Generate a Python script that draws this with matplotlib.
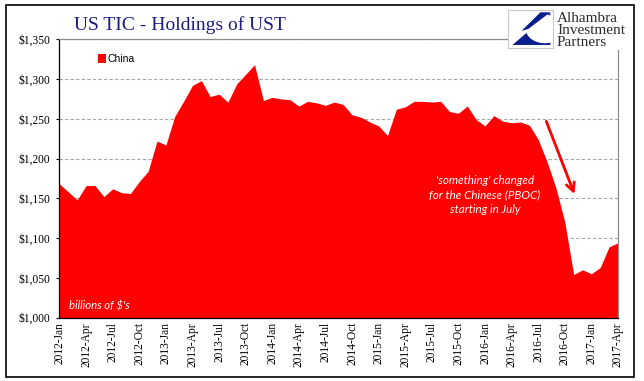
import matplotlib
matplotlib.use('Agg')
import matplotlib.pyplot as plt
from matplotlib.patches import Rectangle, Polygon, Ellipse
from matplotlib.ticker import FuncFormatter

# 中国持有美债 (十亿美元), 2012-Jan .. 2017-Apr, 月度
china = [1168, 1158, 1148, 1166, 1166, 1152, 1162, 1157, 1156, 1171,
         1184, 1222, 1217, 1253, 1272, 1292, 1298, 1278, 1281, 1271,
         1294, 1306, 1318, 1273, 1277, 1275, 1274, 1266, 1272, 1270,
         1267, 1271, 1268, 1255, 1252, 1246, 1241, 1229, 1262, 1265,
         1272, 1272, 1271, 1272, 1259, 1257, 1266, 1249, 1241, 1254,
         1247, 1245, 1246, 1242, 1224, 1196, 1163, 1120, 1054, 1060,
         1055, 1063, 1089, 1094]
months = list(range(len(china)))

tick_labels = ['2012-Jan', '2012-Apr', '2012-Jul', '2012-Oct',
               '2013-Jan', '2013-Apr', '2013-Jul', '2013-Oct',
               '2014-Jan', '2014-Apr', '2014-Jul', '2014-Oct',
               '2015-Jan', '2015-Apr', '2015-Jul', '2015-Oct',
               '2016-Jan', '2016-Apr', '2016-Jul', '2016-Oct',
               '2017-Jan', '2017-Apr']

serif = 'Liberation Serif'

fig = plt.figure(figsize=(6.44, 3.81), dpi=100)
ax = fig.add_axes([59.5 / 644, 1 - 317.5 / 381, 558.5 / 644, 278.2 / 381])

# 面积图
ax.fill_between(months, 1000, china, color='#ff0000', lw=0, label='China')
ax.set_xlim(0, len(china) - 1)
ax.set_ylim(1000, 1350)

# 坐标轴
ax.set_yticks(range(1000, 1351, 50))
ax.yaxis.set_major_formatter(FuncFormatter(lambda v, p: '${:,.0f}'.format(v)))
ax.set_xticks(range(0, len(china), 3))
ax.set_xticklabels(tick_labels, rotation=90, family=serif, fontsize=8.3)
ax.set_xticks(range(3, len(china), 6), minor=True)
ax.tick_params(axis='x', which='major', length=0, pad=3.3)
ax.tick_params(axis='x', which='minor', length=3.5, width=0.8, direction='out')
ax.tick_params(axis='y', length=2.5, width=0.8, pad=4, labelsize=8.3)
for t in ax.get_yticklabels():
    t.set_family(serif)

ax.set_axisbelow(True)
ax.yaxis.grid(True, color='#a6a6a6', lw=0.8, linestyle=(0, (3, 2)))
ax.spines['left'].set_color('black')
ax.spines['bottom'].set_color('black')
ax.spines['top'].set_color('#8c8c8c')
ax.spines['right'].set_color('#8c8c8c')
for s in ax.spines.values():
    s.set_linewidth(0.9)

# 图例
ax.legend(loc='upper left', bbox_to_anchor=(0.06, 0.965), frameon=False,
          handlelength=0.75, handleheight=0.9, handletextpad=0.15,
          borderpad=0, prop={'family': 'Liberation Sans', 'size': 7.5})

ax.text(0.017, 0.041, "billions of $'s", transform=ax.transAxes, color='white',
        style='italic', family='Lato', fontsize=8.2, va='center', ha='left')

# 注释
ax.text(48, 1154, "'something' changed\nfor the Chinese (PBOC)\nstarting in July",
        color='white', style='italic', family='Lato', fontsize=8.4,
        ha='center', va='center', linespacing=1.4)
ax.annotate('', xy=(58.2, 1152), xytext=(54.8, 1250),
            arrowprops=dict(arrowstyle='->,head_length=0.6,head_width=0.3',
                            color='#ff0000', lw=2))

# 标题
fig.text(74 / 644, 1 - 30 / 381, 'US TIC - Holdings of UST', family=serif,
         fontsize=14, color='#1c1c80', va='baseline', ha='left')

# logo 区域
fig.patches.append(Rectangle((508 / 644, 1 - 50 / 381), 124 / 644, 44 / 381,
                             transform=fig.transFigure, facecolor='white',
                             edgecolor='none', zorder=5))
lg = fig.add_axes([508 / 644, 1 - 48 / 381, 45 / 644, 38 / 381], zorder=6)
lg.set_xlim(0, 1)
lg.set_ylim(0, 1)
lg.set_xticks([])
lg.set_yticks([])
for s in lg.spines.values():
    s.set_color('#c8c8c8')
    s.set_linewidth(0.8)
lg.add_patch(Polygon([(0.94, 0.94), (0.1, 0.08), (0.94, 0.08)], closed=True,
                     facecolor='#0b1e8c', edgecolor='none'))
lg.add_patch(Ellipse((0.82, 0.5), 0.85, 0.75, facecolor='white', edgecolor='none'))
lg.add_patch(Polygon([(0.94, 0.94), (0.72, 0.94), (0.3, 0.45), (0.45, 0.5)],
                     closed=True, facecolor='#0b1e8c', edgecolor='none'))

for txt, yb in [('Alhambra', 21.5), ('Investment', 34), ('Partners', 46)]:
    fig.text(557 / 644, 1 - yb / 381, txt, family=serif, fontsize=11,
             color='#2b2b2b', va='baseline', ha='left', zorder=7)

# 外框
fig.patches.append(Rectangle((6 / 644, 1 - 377 / 381), 628 / 644, 372 / 381,
                             transform=fig.transFigure, facecolor='none',
                             edgecolor='black', lw=1.2, zorder=10))

fig.savefig('out.png', dpi=100)
